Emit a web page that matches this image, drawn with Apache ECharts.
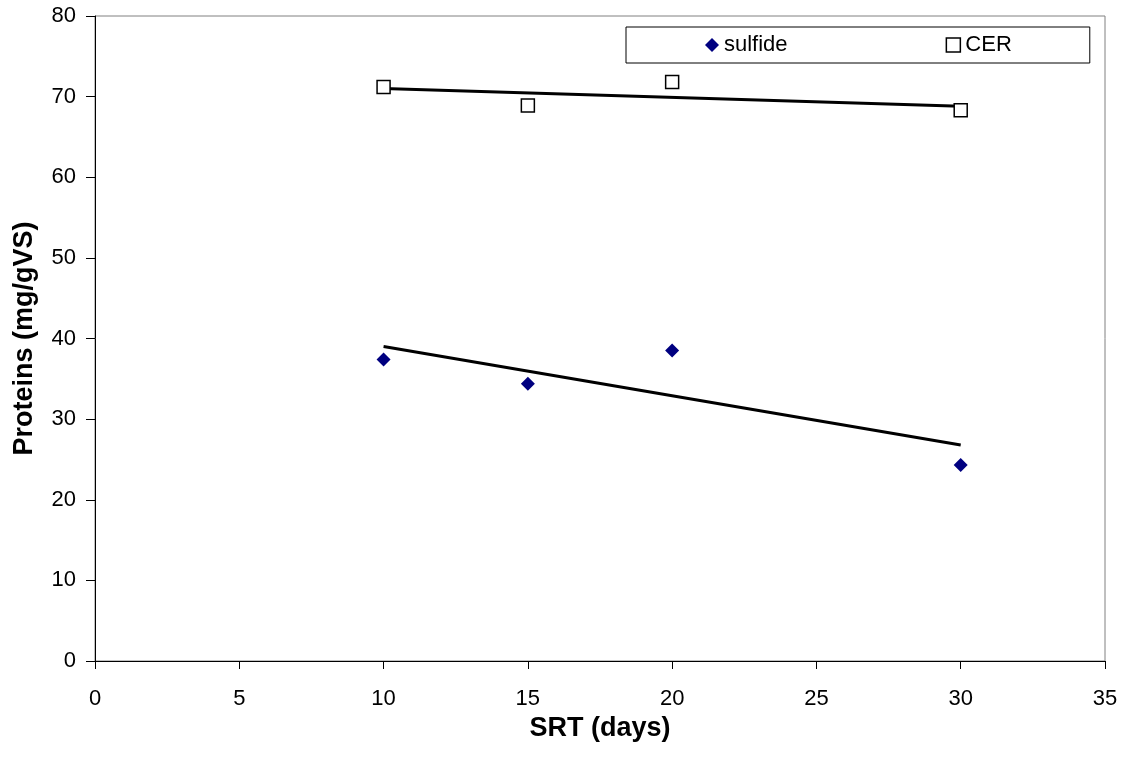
<!DOCTYPE html>
<html><head><meta charset="utf-8">
<script src="https://cdn.jsdelivr.net/npm/echarts@6/dist/echarts.min.js"></script>
<style>html,body{margin:0;padding:0;background:#fff}#c{width:1127px;height:758px}</style>
</head><body><div id="c"></div>
<script>
const srt = [10, 15, 20, 30];
const sulfide = [37.4, 34.4, 38.5, 24.3];
const cer = [71.2, 68.9, 71.8, 68.3];
const sulfideTrendX = [10, 30];
const sulfideTrendY = [39.0, 26.8];
const cerTrendX = [10, 30];
const cerTrendY = [71.0, 68.8];
const xTicks = [0, 5, 10, 15, 20, 25, 30, 35];
const yTicks = [0, 10, 20, 30, 40, 50, 60, 70, 80];

const zip = (a, b) => a.map((v, i) => [v, b[i]]);
const font = 'Liberation Sans, Arial, sans-serif';
const chart = echarts.init(document.getElementById('c'), null, {renderer: 'canvas'});
chart.setOption({
  animation: false,
  backgroundColor: '#fff',
  grid: {left: 95, top: 16, right: 22, bottom: 97, show: true, borderColor: '#808080', borderWidth: 1},
  legend: {
    left: 626, top: 27,
    padding: [7, 78, 7, 79],
    itemGap: 158,
    borderColor: '#000', borderWidth: 1,
    itemWidth: 14, itemHeight: 14,
    textStyle: {fontFamily: font, fontSize: 22, color: '#000'},
    data: [
      {name: 'sulfide', icon: 'diamond', itemStyle: {color: '#000080', borderWidth: 0, opacity: 1}},
      {name: 'CER', icon: 'rect', itemStyle: {color: '#fff', borderColor: '#000', borderWidth: 1.5, opacity: 1}}
    ]
  },
  xAxis: {
    type: 'value', min: xTicks[0], max: xTicks[xTicks.length - 1], interval: 5,
    name: 'SRT (days)', nameLocation: 'middle', nameGap: 53,
    nameTextStyle: {fontFamily: font, fontSize: 27, fontWeight: 'bold', color: '#000'},
    axisLine: {onZero: false, lineStyle: {color: '#000', width: 1}},
    axisTick: {show: true, inside: false, length: 8, lineStyle: {color: '#000'}},
    axisLabel: {fontFamily: font, fontSize: 22, color: '#000', margin: 27},
    splitLine: {show: false}
  },
  yAxis: {
    type: 'value', min: yTicks[0], max: yTicks[yTicks.length - 1], interval: 10,
    name: 'Proteins (mg/gVS)', nameLocation: 'middle', nameGap: 57, nameRotate: 90,
    nameTextStyle: {fontFamily: font, fontSize: 27, fontWeight: 'bold', color: '#000'},
    axisLine: {show: true, lineStyle: {color: '#000', width: 1}},
    axisTick: {show: true, inside: false, length: 9, lineStyle: {color: '#000'}},
    axisLabel: {fontFamily: font, fontSize: 22, color: '#000', margin: 19},
    splitLine: {show: false}
  },
  series: [
    {name: 'sulfide', type: 'scatter', symbol: 'diamond', symbolSize: 14,
     itemStyle: {color: '#000080', opacity: 1}, data: zip(srt, sulfide), z: 3},
    {name: 'CER', type: 'scatter', symbol: 'rect', symbolSize: 13,
     itemStyle: {color: '#fff', borderColor: '#000', borderWidth: 1.5, opacity: 1}, data: zip(srt, cer), z: 3},
    {name: 'sulfideTrend', type: 'line', symbol: 'none', silent: true,
     lineStyle: {color: '#000', width: 3}, data: zip(sulfideTrendX, sulfideTrendY), z: 2},
    {name: 'cerTrend', type: 'line', symbol: 'none', silent: true,
     lineStyle: {color: '#000', width: 3}, data: zip(cerTrendX, cerTrendY), z: 2}
  ]
});
</script></body></html>
